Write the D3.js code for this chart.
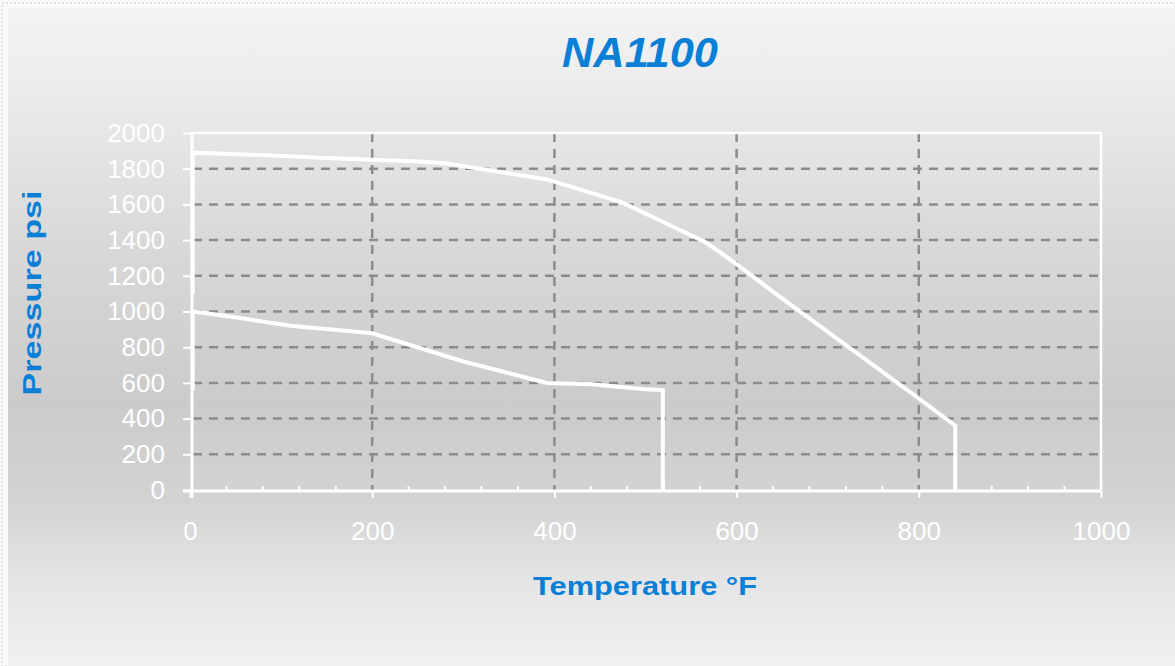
<!DOCTYPE html>
<html><head><meta charset="utf-8">
<script src="https://cdn.jsdelivr.net/npm/d3@7"></script>
<style>html,body{margin:0;padding:0;background:#fff;}svg{display:block;}</style>
</head><body>
<svg id="c" width="1175" height="666"></svg>
<script>
const title = "NA1100";
const xLabel = "Temperature \u00B0F";
const yLabel = "Pressure psi";
const xTicks = [0, 200, 400, 600, 800, 1000];
const yTicks = [0, 200, 400, 600, 800, 1000, 1200, 1400, 1600, 1800, 2000];
// upper rating curve (temperature °F, pressure psi)
const upperT = [3, 3, 60, 150, 250, 280, 392, 475, 567, 600, 648, 798, 840, 840];
const upperP = [1100, 1890, 1880, 1860, 1840, 1830, 1740, 1610, 1385, 1265, 1080, 520, 360, 0];
// lower rating curve
const lowerT = [3, 3, 40, 110, 200, 300, 392, 440, 500, 519, 519];
const lowerP = [560, 1000, 975, 920, 878, 720, 600, 592, 565, 560, 0];

const svg = d3.select("#c");
const W = 1175, H = 666;
const defs = svg.append("defs");
const g = defs.append("linearGradient").attr("id","bg").attr("x1",0).attr("y1",0).attr("x2",0).attr("y2",1);
[[0,"#f3f3f3"],[0.12,"#ececec"],[0.35,"#d9d9d9"],[0.6,"#cbcbcb"],[0.75,"#d3d3d3"],[0.88,"#e6e6e6"],[1,"#f1f1f1"]]
  .forEach(([o,c])=>g.append("stop").attr("offset",o).attr("stop-color",c));

svg.append("rect").attr("width",W).attr("height",H).attr("fill","#fafafa");
svg.append("rect").attr("x",2).attr("y",3).attr("width",W-2).attr("height",H-3)
  .attr("fill","none").attr("stroke","#e2e2e2").attr("stroke-width",2).attr("stroke-dasharray","2,2");
svg.append("rect").attr("x",8).attr("y",8).attr("width",W-8).attr("height",H-8).attr("fill","url(#bg)");

const x = d3.scaleLinear().domain([0,1000]).range([190,1101]);
const y = d3.scaleLinear().domain([0,2000]).range([490,133]);

// grid
const grid = svg.append("g").attr("stroke","#8c8c8c").attr("stroke-width",2.5).attr("stroke-dasharray","9,7");
grid.selectAll("line.h").data(yTicks.filter(v=>v>0 && v<2000)).join("line")
  .attr("x1",x(0)+3).attr("x2",x(1000)).attr("y1",d=>y(d)).attr("y2",d=>y(d));
grid.selectAll("line.v").data(xTicks.filter(v=>v>0 && v<1000)).join("line")
  .attr("y1",y(2000)).attr("y2",y(0)).attr("x1",d=>x(d)).attr("x2",d=>x(d));

// border top/right
svg.append("path").attr("d",`M${x(0)},${y(2000)}H${x(1000)}V${y(0)}`)
  .attr("fill","none").attr("stroke","#fff").attr("stroke-width",2.5);

// axes
const font = "'Liberation Sans', Arial, sans-serif";
const yAxis = d3.axisLeft(y).tickValues(yTicks).tickSize(9).tickPadding(18).tickFormat(d3.format("d"));
const ya = svg.append("g").attr("transform",`translate(${x(0)+2},0)`).call(yAxis);
const xAxis = d3.axisBottom(x).tickValues(xTicks).tickSize(7).tickPadding(24).tickFormat(d3.format("d"));
const xa = svg.append("g").attr("transform",`translate(0,${y(0)+1})`).call(xAxis);
[ya,xa].forEach(a=>{
  a.select(".domain").attr("stroke","#fff").attr("stroke-width",3);
  a.selectAll(".tick line").attr("stroke","#fff").attr("stroke-width",2);
  a.selectAll(".tick text").attr("fill","#fff").attr("font-family",font).attr("font-size",26);
});
xa.select(".domain").attr("d",`M${x(0)-7},0H${x(1000)}`);
ya.select(".domain").attr("d",`M0,${y(2000)}V${y(0)+8}`);
// minor x ticks
const minor = d3.range(40,1000,40).filter(v=>v%200!==0);
svg.append("g").selectAll("line").data(minor).join("line")
  .attr("x1",d=>x(d)).attr("x2",d=>x(d)).attr("y1",y(0)+1).attr("y2",y(0)-4)
  .attr("stroke","#fff").attr("stroke-width",2);

// data
const line = d3.line().x(d=>x(d[0])).y(d=>y(d[1]));
[[upperT,upperP],[lowerT,lowerP]].forEach(([t,p])=>{
  svg.append("path").datum(t.map((v,i)=>[v,p[i]])).attr("d",line)
    .attr("fill","none").attr("stroke","#fff").attr("stroke-width",4).attr("stroke-linejoin","miter");
});

// texts
svg.append("text").attr("x",640).attr("y",67).attr("text-anchor","middle")
  .attr("font-family",font).attr("font-weight","bold").attr("font-style","italic")
  .attr("font-size",43).attr("textLength",156).attr("lengthAdjust","spacingAndGlyphs")
  .attr("fill","#0a7fd6").text(title);
svg.append("text").attr("x",645).attr("y",595).attr("text-anchor","middle")
  .attr("font-family",font).attr("font-weight","bold")
  .attr("font-size",25).attr("textLength",224).attr("lengthAdjust","spacingAndGlyphs")
  .attr("fill","#0a7fd6").text(xLabel);
svg.append("text").attr("transform","translate(41,293) rotate(-90)").attr("text-anchor","middle")
  .attr("font-family",font).attr("font-weight","bold")
  .attr("font-size",25).attr("textLength",205).attr("lengthAdjust","spacingAndGlyphs")
  .attr("fill","#0a7fd6").text(yLabel);
</script>
</body></html>
